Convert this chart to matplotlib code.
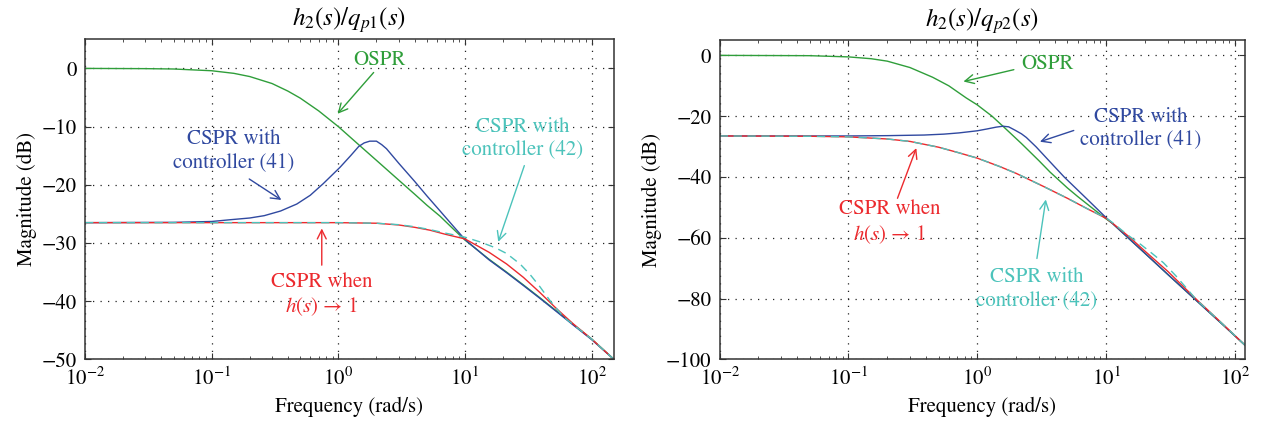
import matplotlib

matplotlib.use("Agg")

import matplotlib.pyplot as plt
from matplotlib.ticker import LogLocator, NullFormatter

plt.rcParams["font.family"] = ["STIXGeneral", "DejaVu Serif"]
plt.rcParams["mathtext.fontset"] = "stix"
plt.rcParams["font.size"] = 15

GREEN = "#2f9e3a"
BLUE = "#3049a0"
RED = "#ec2a2e"
CYAN = "#4cc3bb"

# ---- left panel: h2(s)/qp1(s) ----
w1_ospr = [0.01, 0.03, 0.05, 0.1, 0.15, 0.2, 0.3, 0.4, 0.5, 0.7, 1.0, 1.5, 2.0,
           3.0, 4.0, 5.0, 6.36, 8.0, 10, 15.5, 21.3, 28.9, 39, 52.9, 71.6, 100, 150]
db1_ospr = [0, -0.04, -0.1, -0.4, -0.85, -1.4, -2.6, -3.9, -5.1, -7.3, -10.0, -13.4,
            -15.8, -19.2, -21.6, -23.5, -25.4, -27.5, -29.5, -32.8, -35.0, -37.2,
            -39.4, -41.7, -44.0, -46.5, -50.0]

w1_c41 = [0.01, 0.05, 0.1, 0.14, 0.2, 0.26, 0.35, 0.47, 0.6, 0.76, 1.03, 1.25, 1.45,
          1.6, 1.77, 2.0, 2.2, 2.4, 3.0, 4.0, 5.0, 6.36, 8.0, 10, 15.5, 21.3, 28.9,
          39, 52.9, 71.6, 100, 150]
db1_c41 = [-26.5, -26.45, -26.3, -26.0, -25.7, -25.3, -24.5, -23.3, -21.8, -19.8,
           -17.0, -15.0, -13.4, -12.8, -12.5, -12.5, -13.1, -13.8, -16.3, -19.4,
           -21.9, -24.5, -27.0, -29.4, -32.9, -35.1, -37.3, -39.5, -41.8, -44.1,
           -46.6, -50.0]

w1_h1 = [0.01, 0.1, 0.5, 1.0, 2.0, 3.0, 4.0, 5.3, 7.0, 10, 15.5, 21.3, 28.9, 39,
         52.9, 71.6, 100, 150]
db1_h1 = [-26.5, -26.5, -26.5, -26.5, -26.6, -26.9, -27.3, -27.8, -28.5, -29.3,
          -31.6, -33.6, -35.9, -38.5, -41.3, -43.9, -46.5, -50.0]

w1_c42 = [0.01, 0.1, 0.5, 1.0, 2.0, 3.0, 4.0, 5.3, 7.0, 10, 13.1, 17.3, 21.3, 27.2,
          32.6, 39, 46.9, 60, 100, 150]
db1_c42 = [-26.5, -26.5, -26.5, -26.5, -26.6, -26.85, -27.2, -27.7, -28.3, -29.0,
           -29.8, -30.8, -31.8, -33.6, -35.4, -37.5, -39.9, -42.7, -46.5, -50.0]

# ---- right panel: h2(s)/qp2(s) ----
w2_ospr = [0.01, 0.05, 0.1, 0.15, 0.2, 0.3, 0.45, 0.6, 0.82, 1.0, 1.3, 1.58, 2.2,
           3.0, 3.67, 5.0, 6.0, 8.0, 10, 11.2, 20, 30, 50, 80, 120]
db2_ospr = [0, -0.1, -0.5, -1.1, -1.9, -4.0, -7.2, -10.0, -14.0, -16.3, -20.0,
            -23.3, -29.0, -34.6, -38.4, -43.6, -46.4, -50.6, -53.8, -55.3, -65.1,
            -72.0, -80.6, -88.5, -95.4]

w2_c41 = [0.01, 0.1, 0.2, 0.386, 0.55, 0.72, 1.0, 1.19, 1.4, 1.58, 1.75, 1.96, 2.2,
          2.4, 2.86, 3.5, 4.72, 7.0, 10, 11.2, 20, 30, 50, 80, 120]
db2_c41 = [-26.5, -26.5, -26.4, -26.2, -25.9, -25.5, -24.8, -24.2, -23.6, -23.3,
           -23.5, -24.6, -25.8, -27.0, -30.1, -34.1, -40.0, -47.0, -53.4, -55.3,
           -65.1, -72.0, -80.6, -88.5, -95.4]

w2_h1 = [0.01, 0.05, 0.1, 0.2, 0.3, 0.5, 0.7, 1.0, 1.5, 2.0, 3.26, 5.0, 7.1, 10,
         11.2, 15, 20, 30, 50, 80, 120]
db2_h1 = [-26.5, -26.6, -26.8, -27.5, -28.3, -30.2, -31.9, -33.8, -36.6, -38.8,
          -43.1, -47.0, -50.4, -53.6, -55.2, -59.6, -64.4, -71.0, -80.2, -88.3, -95.4]

w2_c42 = [0.01, 0.05, 0.1, 0.2, 0.3, 0.5, 0.7, 1.0, 1.5, 2.0, 3.26, 5.0, 7.1, 10,
          11.2, 14.5, 18.7, 22.8, 27.8, 34.9, 50, 80, 120]
db2_c42 = [-26.5, -26.6, -26.8, -27.5, -28.3, -30.2, -31.9, -33.8, -36.6, -38.8,
           -43.1, -47.0, -50.4, -53.5, -55.0, -58.9, -62.3, -65.2, -68.2, -72.6,
           -80.3, -88.3, -95.4]

fig = plt.figure(figsize=(12.61, 4.32), dpi=100)
ax1 = fig.add_axes([0.0674, 0.168, 0.4195, 0.741])
ax2 = fig.add_axes([0.5707, 0.168, 0.4168, 0.739])

ARROW = dict(arrowstyle="->", lw=1.0, mutation_scale=16, shrinkA=0, shrinkB=0)


def style_axes(ax, xmax, ymin, yticks):
    ax.set_xscale("log")
    ax.set_xlim(0.01, xmax)
    ax.set_ylim(ymin, 5)
    ax.set_yticks(yticks)
    ax.set_yticklabels([f"{t:d}".replace("-", "\u2212") for t in yticks])
    ax.xaxis.set_major_locator(LogLocator(base=10, numticks=10))
    ax.xaxis.set_minor_locator(LogLocator(base=10, subs=range(2, 10), numticks=10))
    ax.xaxis.set_minor_formatter(NullFormatter())
    ax.tick_params(which="both", direction="in", top=True, right=True,
                   color="#333333", pad=6)
    ax.tick_params(which="major", length=4, width=0.8)
    ax.tick_params(which="minor", length=2.5, width=0.6)
    ax.grid(True, which="major", linestyle=(0, (1, 5)), color="#222222", lw=0.9)
    for sp in ax.spines.values():
        sp.set_color("#333333")
        sp.set_linewidth(1.1)
    ax.set_xlabel("Frequency (rad/s)", labelpad=5)
    ax.set_ylabel("Magnitude (dB)", labelpad=3)


def draw(ax, series):
    (wg, dg), (wb, db), (wr, dr), (wc, dc) = series
    ax.plot(wg, dg, color=GREEN, lw=1.0)
    ax.plot(wb, db, color=BLUE, lw=1.0)
    ax.plot(wr, dr, color=RED, lw=1.0)
    ax.plot(wc, dc, color=CYAN, lw=1.0, dashes=(6, 4))


def note(ax, text, color, pos, tail, head):
    ax.text(pos[0], pos[1], text, color=color, ha="center", va="center",
            linespacing=1.2)
    ax.annotate("", xy=head, xytext=tail, arrowprops=dict(ARROW, color=color))


draw(ax1, [(w1_ospr, db1_ospr), (w1_c41, db1_c41), (w1_h1, db1_h1), (w1_c42, db1_c42)])
style_axes(ax1, 150, -50, [0, -10, -20, -30, -40, -50])
ax1.set_title(r"$h_2(s)/q_{p1}(s)$", pad=10)

note(ax1, "OSPR", GREEN, (2.1, 1.4), (1.9, -0.7), (0.986, -7.8))
note(ax1, "CSPR with\ncontroller (41)", BLUE, (0.15, -14.1), (0.198, -19.0), (0.355, -22.6))
note(ax1, "CSPR with\ncontroller (42)", CYAN, (28.5, -12.0), (29.4, -16.7), (18.3, -29.8))
note(ax1, "CSPR when\n" + r"$h(s)\,\rightarrow\,1$", RED, (0.74, -39.0),
     (0.74, -33.8), (0.74, -27.5))

draw(ax2, [(w2_ospr, db2_ospr), (w2_c41, db2_c41), (w2_h1, db2_h1), (w2_c42, db2_c42)])
style_axes(ax2, 120, -100, [0, -20, -40, -60, -80, -100])
ax2.set_title(r"$h_2(s)/q_{p2}(s)$", pad=10)

note(ax2, "OSPR", GREEN, (3.5, -2.9), (1.92, -4.7), (0.78, -8.6))
note(ax2, "CSPR with\ncontroller (41)", BLUE, (18.5, -24.0), (5.6, -24.7), (3.06, -28.4))
note(ax2, "CSPR when\n" + r"$h(s)\,\rightarrow\,1$", RED, (0.21, -55.0),
     (0.24, -47.0), (0.336, -30.5))
note(ax2, "CSPR with\ncontroller (42)", CYAN, (2.9, -76.7), (2.9, -66.8), (3.4, -47.4))

fig.savefig("out.png", dpi=100)
plt.close(fig)
